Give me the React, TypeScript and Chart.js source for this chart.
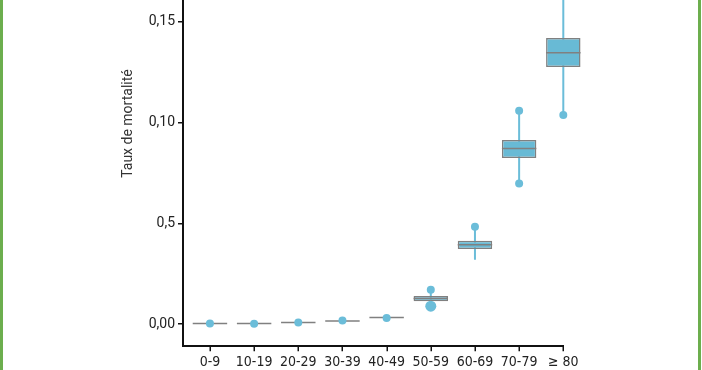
import React, { useEffect, useRef } from 'react';
import { Chart, registerables } from 'chart.js';

Chart.register(...registerables);

// ---- data ----
const categories = ['0-9', '10-19', '20-29', '30-39', '40-49', '50-59', '60-69', '70-79', '≥ 80'];
const q1 = [0.0003, 0.0003, 0.0008, 0.0016, 0.0033, 0.0114, 0.0373, 0.0824, 0.1275];
const median = [0.0003, 0.0003, 0.0008, 0.0016, 0.0033, 0.0127, 0.0394, 0.0871, 0.1346];
const q3 = [0.0003, 0.0003, 0.0008, 0.0016, 0.0033, 0.014, 0.0414, 0.0914, 0.1419];
const whiskerLow = [0.0003, 0.0003, 0.0008, 0.0016, 0.0033, 0.0089, 0.0319, 0.0698, 0.1037];
const whiskerHigh = [0.0003, 0.0003, 0.0008, 0.0016, 0.0033, 0.0171, 0.0483, 0.1059, 0.166];
const outlierCategory = [0, 1, 2, 3, 4, 5, 5, 6, 7, 7, 8, 8];
const outlierValue = [0.0003, 0.0002, 0.0008, 0.0018, 0.003, 0.0171, 0.0089, 0.0483, 0.1059, 0.0698, 0.1037, 0.166];
const outlierSize = [4, 4, 4, 4, 4, 4, 5.5, 4, 4, 4, 4, 4];
const yTickValues = [0, 0.05, 0.1, 0.15];
const yTickLabels = ['0,00', '0,5', '0,10', '0,15'];
const yTitle = 'Taux de mortalité';

const BOX_HALF = 0.39;
const BLUE = '#6bbdd9';
const BOX_FILL = '#68bad5';
const GRAY = '#808080';
const AXIS = '#111';

// draws the x-axis tick marks at each tick of the library's x scale
const xTickMarks = {
  id: 'xTickMarks',
  afterDraw(chart: any) {
    const s = chart.scales.x;
    const ctx = chart.ctx;
    ctx.save();
    ctx.strokeStyle = AXIS;
    ctx.lineWidth = 1.5;
    s.ticks.forEach((t: any) => {
      const px = Math.round(s.getPixelForValue(t.value)) + 0.25;
      ctx.beginPath();
      ctx.moveTo(px, s.top);
      ctx.lineTo(px, s.top + 5.5);
      ctx.stroke();
    });
    ctx.restore();
  },
};

export default function App() {
  const ref = useRef<HTMLCanvasElement | null>(null);

  useEffect(() => {
    if (!ref.current) return;
    const whiskerData: any[] = [];
    categories.forEach((_, i) => {
      whiskerData.push({ x: i, y: whiskerLow[i] }, { x: i, y: whiskerHigh[i] }, { x: i, y: null });
    });
    const medianData: any[] = [];
    categories.forEach((_, i) => {
      medianData.push({ x: i - BOX_HALF, y: median[i] }, { x: i + BOX_HALF, y: median[i] }, { x: i, y: null });
    });
    const boxData = categories.map((_, i) => ({ x: i, y: [q1[i], q3[i]] }));
    const outlierData = outlierValue.map((v, k) => ({ x: outlierCategory[k], y: v }));

    const chart = new Chart(ref.current, {
      type: 'bar',
      data: {
        datasets: [
          {
            type: 'line',
            data: whiskerData,
            borderColor: BLUE,
            borderWidth: 2,
            pointRadius: 0,
            spanGaps: false,
            order: 3,
            clip: false,
          } as any,
          {
            type: 'bar',
            data: boxData,
            backgroundColor: BOX_FILL,
            borderColor: GRAY,
            borderWidth: 1.5,
            borderSkipped: false,
            categoryPercentage: 1,
            barPercentage: 0.78,
            order: 2,
            clip: false,
          } as any,
          {
            type: 'line',
            data: medianData,
            borderColor: GRAY,
            borderWidth: 1.5,
            pointRadius: 0,
            spanGaps: false,
            order: 1,
            clip: false,
          } as any,
          {
            type: 'scatter',
            data: outlierData,
            backgroundColor: BLUE,
            borderWidth: 0,
            pointRadius: outlierSize,
            order: 0,
            clip: false,
          } as any,
        ],
      },
      options: {
        animation: false,
        responsive: false,
        events: [],
        layout: { padding: { top: 8, left: 0, right: 138.7, bottom: 0 } },
        plugins: { legend: { display: false }, tooltip: { enabled: false } },
        scales: {
          x: {
            type: 'linear',
            offset: false,
            min: -0.61,
            max: 8,
            afterBuildTicks: (s: any) => {
              s.ticks = categories.map((_, i) => ({ value: i }));
            },
            afterFit: (s: any) => {
              s.height = 24.3;
            },
            ticks: {
              autoSkip: false,
              maxRotation: 0,
              padding: 8,
              color: '#222',
              font: { family: '"Liberation Sans Narrow", "DejaVu Sans Condensed", Roboto, sans-serif', size: 14 },
              callback: (v: any) => categories[Math.round(Number(v))] ?? '',
            },
            grid: { display: false, drawOnChartArea: false, drawTicks: false },
            border: { display: true, color: AXIS, width: 2 },
          },
          y: {
            type: 'linear',
            min: -0.01068,
            max: 0.2097,
            afterBuildTicks: (s: any) => {
              s.ticks = yTickValues.map((v) => ({ value: v }));
            },
            afterFit: (s: any) => {
              s.width = 183;
            },
            ticks: {
              padding: 3,
              color: '#222',
              font: { family: 'Roboto, sans-serif', size: 14 },
              callback: (v: any) => {
                const idx = yTickValues.findIndex((t) => Math.abs(t - Number(v)) < 1e-9);
                return idx >= 0 ? yTickLabels[idx] : '';
              },
            },
            grid: { display: true, drawOnChartArea: false, drawTicks: true, tickLength: 5, tickColor: AXIS, tickWidth: 1.5, color: AXIS, lineWidth: 1.5 },
            border: { display: true, color: AXIS, width: 2 },
            title: {
              display: true,
              text: yTitle,
              color: '#333',
              font: { family: 'Roboto, sans-serif', size: 14 },
              padding: { top: 120, bottom: 0 },
            },
          },
        },
      } as any,
      plugins: [xTickMarks],
    });
    return () => chart.destroy();
  }, []);

  return (
    <div style={{ position: 'fixed', left: 0, top: 0, width: 702, height: 370, overflow: 'hidden', background: '#fff' }}>
      <div style={{ position: 'absolute', left: 0, top: -110, width: 702, height: 480 }}>
        <canvas ref={ref} width={702} height={480} style={{ display: 'block', width: 702, height: 480 }} />
      </div>
      <div style={{ position: 'absolute', left: 0, top: 0, width: 3, height: 370, background: '#6cae4e' }} />
      <div style={{ position: 'absolute', left: 698, top: 0, width: 3, height: 370, background: '#6cae4e' }} />
    </div>
  );
}
